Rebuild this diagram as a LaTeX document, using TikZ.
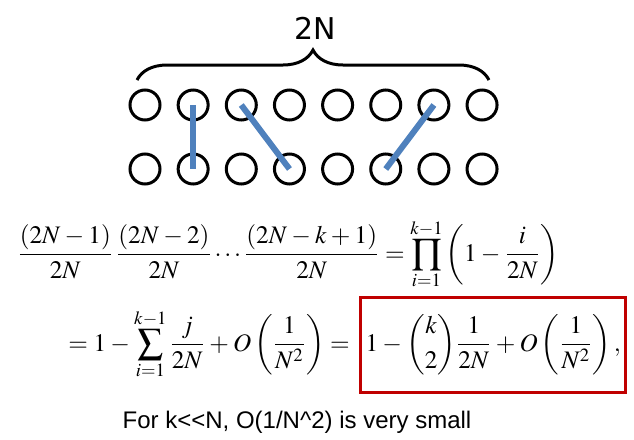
\documentclass[tikz,border=0pt]{standalone}
\usepackage{amsmath}
\usepackage[no-math]{fontspec}
\usepackage{mathptmx}
\usepackage{tikz}
\usetikzlibrary{decorations.pathreplacing}
\usetikzlibrary{positioning}
\newfontfamily\countfont{DejaVu Sans}
\newfontfamily\notefont{Liberation Sans}
\definecolor{pairblue}{HTML}{4F81BD}
\definecolor{boxred}{HTML}{C00000}
\newcommand{\tightmath}{\medmuskip=3mu\relax\thickmuskip=4mu\relax}
\tikzset{
    allele/.style={circle, draw, line width=1.5pt, minimum size=15pt, inner sep=0pt},
    pairing/.style={pairblue, line width=3pt},
    eqline/.style={inner sep=0pt, font=\fontsize{12.6}{15}\selectfont},
}

\begin{document}
\begin{tikzpicture}[x=0.5pt, y=-0.5pt]
    \useasboundingbox (0, 0) rectangle (634, 440);
    \foreach \i in {1,...,8} {
        \node[allele] (top-\i) at ({145 + 48.15*(\i-1)}, 105) {};
        \node[allele] (bot-\i) at ({145 + 48.15*(\i-1)}, 169) {};
    }
    \draw[pairing] (top-2.center) -- (bot-2.center);
    \draw[pairing] (top-3.center) -- (bot-4.center);
    \draw[pairing] (top-7.center) -- (bot-6.center);
    \coordinate (brace-l) at (137, 80);
    \coordinate (brace-r) at (489, 80);
    \draw[line width=1.5pt, decorate, decoration={brace, amplitude=15pt}] (brace-l) -- (brace-r);
    \node[font=\countfont\fontsize{15}{18}\selectfont] (count) at (315, 28) {2N};
    % the two lines of the formula
    \node[eqline, anchor=base west] (prodline) at (17, 261)
        {$\tightmath\displaystyle \frac{(2N-1)}{2N}\,\frac{(2N-2)}{2N}\cdots\frac{(2N-k+1)}{2N}=\prod_{i=1}^{k-1}\left(1-\frac{i}{2N}\right)$};
    \node[eqline, anchor=base west] (sumline) at (68, 351)
        {$\tightmath\displaystyle =1-\sum_{i=1}^{k-1}\frac{j}{2N}+O\left(\frac{1}{N^2}\right)=$};
    \node[eqline, anchor=base west, draw=boxred, line width=1.5pt, inner xsep=2.5pt, inner ysep=1.5pt, text height=25.5pt, text depth=19pt] (approx) at ([xshift=4.5pt]sumline.base east)
        {$\tightmath\displaystyle 1-\binom{k}{2}\frac{1}{2N}+O\left(\frac{1}{N^2}\right),$};
    \node[font=\notefont\fontsize{12}{14}\selectfont] (note) at (297, 422) {For k<<N, O(1/N\^{}2) is very small};
\end{tikzpicture}
\end{document}
